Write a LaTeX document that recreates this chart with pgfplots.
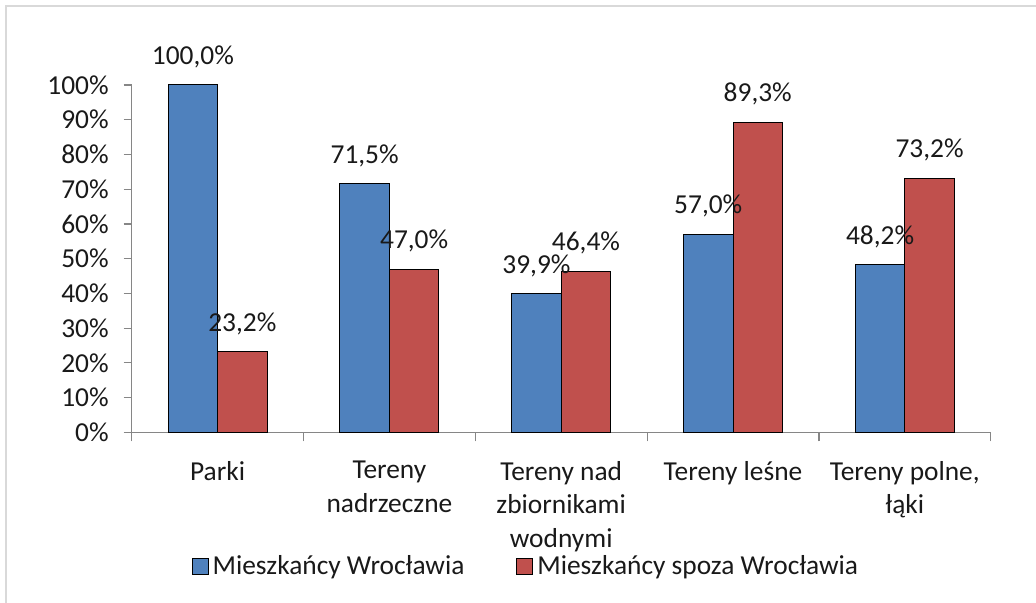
\documentclass[border=0pt]{standalone}
\usepackage{pgfplots}
\pgfplotsset{compat=1.18}
\usepackage{fontspec}
\setmainfont{Carlito}
\definecolor{cblue}{HTML}{4F81BD}
\definecolor{cred}{HTML}{C0504D}
\definecolor{axgray}{HTML}{868686}
\definecolor{frame}{HTML}{D9D9D9}
\newcommand\cf{\fontsize{13.7pt}{16.7pt}\selectfont}
\begin{document}
\begin{tikzpicture}
\useasboundingbox (0,0) rectangle (518pt,301.5pt);
\draw[frame, line width=1pt] (3pt,0) -- (3pt,298.5pt) -- (518pt,298.5pt);
\begin{axis}[
  at={(65.85pt,85.35pt)}, anchor=south west,
  scale only axis, width=429.5pt, height=173.65pt,
  font=\cf,
  ybar=0pt, bar width=24.75pt,
  xmin=-0.5, xmax=4.5, ymin=0, ymax=100,
  axis x line*=bottom, axis y line*=left,
  axis line style={axgray, line width=0.6pt},
  tick style={axgray, line width=0.6pt},
  tick align=outside,
  major tick length=4pt, minor tick length=4.5pt,
  xtick={0,1,2,3,4},
  major x tick style={draw=none},
  minor xtick={-0.5,0.5,1.5,2.5,3.5,4.5},
  xticklabels={Parki, Tereny\\nadrzeczne, Tereny nad\\zbiornikami\\wodnymi, Tereny leśne, {Tereny polne,\\łąki}},
  xticklabel style={align=center, font=\cf, yshift=-7pt, text=black!90},
  ytick={0,10,...,100},
  yticklabel={\pgfmathprintnumber{\tick}\%},
  yticklabel style={font=\cf, text=black!90},
  yticklabel shift=4pt,
  /pgf/number format/assume math mode=true,
  nodes near coords={\pgfmathprintnumber[fixed,fixed zerofill,precision=1,use comma,assume math mode=true]{\pgfplotspointmeta}\%},
  every node near coord/.append style={font=\cf, anchor=center, yshift=14pt, text=black!90},
  legend style={draw=none, fill=none, at={(0.46,-0.385)}, anchor=center, font=\cf, text=black!90,
    /tikz/every even column/.append style={column sep=24pt}},
  legend columns=2,
  legend image code/.code={\draw[#1,draw=black,line width=0.5pt] (0pt,-4pt) rectangle (8pt,4pt);},
]
\addplot[fill=cblue, draw=black, line width=0.5pt] coordinates {(0,100.0) (1,71.5) (2,39.9) (3,57.0) (4,48.2)};
\addplot[fill=cred, draw=black, line width=0.5pt] coordinates {(0,23.2) (1,47.0) (2,46.4) (3,89.3) (4,73.2)};
\legend{Mieszkańcy Wrocławia, Mieszkańcy spoza Wrocławia}
\end{axis}
\end{tikzpicture}
\end{document}
